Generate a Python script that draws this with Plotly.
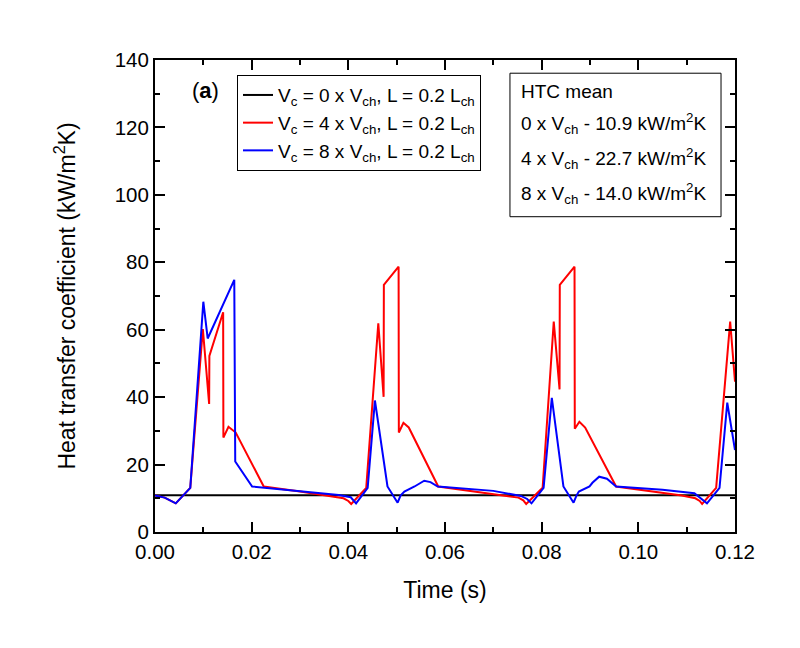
import plotly.graph_objects as go

# ---------------- data ----------------
t_black = [0.0, 0.12]
htc_black = [10.9, 10.9]

t_red = [0.0, 0.002, 0.0043, 0.0073, 0.0099, 0.0112, 0.01125, 0.0141, 0.01415, 0.0152, 0.0167,
         0.0225, 0.030, 0.036, 0.0390, 0.0400, 0.0406, 0.0437, 0.0462, 0.0473, 0.04735, 0.0504,
         0.05045, 0.0514, 0.0525, 0.0586, 0.066, 0.072, 0.0752, 0.0762, 0.0768, 0.0802, 0.0825,
         0.0837, 0.08375, 0.0868, 0.08685, 0.0878, 0.0890, 0.0954, 0.103, 0.109, 0.1118, 0.1127,
         0.1132, 0.1161, 0.1190, 0.1200]
htc_red = [10.8, 10.2, 8.5, 13.1, 60.2, 38.0, 52.2, 65.2, 28.0, 31.2, 29.5,
           13.5, 12.0, 10.8, 10.0, 9.2, 8.3, 13.1, 61.9, 40.1, 73.3, 78.7,
           29.5, 32.4, 31.0, 13.5, 12.0, 10.8, 10.2, 9.4, 8.3, 13.1, 62.4,
           42.3, 73.3, 78.7, 30.6, 32.7, 31.0, 13.5, 12.0, 10.8, 10.0, 9.2,
           8.3, 13.1, 62.4, 44.6]

t_blue = [0.0, 0.002, 0.0043, 0.0073, 0.0100, 0.0109, 0.0164, 0.0166, 0.0201, 0.030, 0.038,
          0.0405, 0.0416, 0.0440, 0.0455, 0.0481, 0.0490, 0.0502, 0.0508, 0.0516, 0.0537,
          0.0545, 0.0557, 0.0570, 0.0585, 0.070, 0.0757, 0.0770, 0.0779, 0.0804, 0.0821,
          0.0845, 0.0855, 0.0866, 0.0872, 0.0877, 0.0899, 0.0905, 0.0919, 0.0935, 0.0954,
          0.105, 0.1116, 0.1135, 0.1142, 0.1168, 0.1184, 0.1200]
htc_blue = [10.8, 10.2, 8.5, 13.1, 68.3, 57.4, 74.8, 20.9, 13.5, 12.0, 11.0,
            10.3, 8.5, 13.1, 39.0, 13.5, 11.5, 8.7, 10.8, 12.0, 13.5,
            14.2, 15.2, 14.8, 13.5, 12.2, 10.7, 9.8, 8.5, 13.1, 39.8,
            13.5, 11.2, 8.7, 10.8, 12.0, 13.5, 14.6, 16.4, 15.8, 13.5,
            12.5, 11.5, 9.5, 8.5, 13.1, 38.4, 24.3]

legend_names = [
    "V<sub>c</sub> = 0 x V<sub>ch</sub>, L = 0.2 L<sub>ch</sub>",
    "V<sub>c</sub> = 4 x V<sub>ch</sub>, L = 0.2 L<sub>ch</sub>",
    "V<sub>c</sub> = 8 x V<sub>ch</sub>, L = 0.2 L<sub>ch</sub>",
]
htc_lines = [
    "HTC mean",
    "0 x V<sub>ch</sub> - 10.9 kW/m<sup>2</sup>K",
    "4 x V<sub>ch</sub> - 22.7 kW/m<sup>2</sup>K",
    "8 x V<sub>ch</sub> - 14.0 kW/m<sup>2</sup>K",
]
x_ticks = [0.00, 0.02, 0.04, 0.06, 0.08, 0.10, 0.12]
y_ticks = [0, 20, 40, 60, 80, 100, 120, 140]

FONT = "Liberation Sans, Arial, sans-serif"

fig = go.Figure()
for name, xs, ys, col in [(legend_names[0], t_black, htc_black, "black"),
                          (legend_names[1], t_red, htc_red, "#ff0000"),
                          (legend_names[2], t_blue, htc_blue, "#0000ff")]:
    fig.add_trace(go.Scatter(x=xs, y=ys, mode="lines", name=name,
                             line=dict(color=col, width=2)))

axis_common = dict(showline=True, linecolor="black", linewidth=2, mirror="ticks",
                   ticks="inside", ticklen=10, tickwidth=1.5, tickcolor="black",
                   showgrid=False, zeroline=False,
                   tickfont=dict(family=FONT, size=20.5, color="black"))

fig.update_xaxes(range=[0, 0.12], tickvals=x_ticks, tickformat=".2f",
                 minor=dict(ticks="inside", ticklen=5, tickwidth=1.5, tickcolor="black", dtick=0.01),
                 title=dict(text="Time (s)", font=dict(family=FONT, size=23, color="black"), standoff=20),
                 **axis_common)
fig.update_yaxes(range=[0, 140], tickvals=y_ticks,
                 minor=dict(ticks="inside", ticklen=5, tickwidth=1.5, tickcolor="black", dtick=10),
                 title=dict(text="Heat transfer coefficient (kW/m<sup>2</sup>K)",
                            font=dict(family=FONT, size=23, color="black"), standoff=33),
                 **axis_common)

fig.update_layout(
    width=800, height=648,
    margin=dict(l=155, r=65, t=60, b=116),
    plot_bgcolor="white", paper_bgcolor="white",
    font=dict(family=FONT, color="black"),
    legend=dict(x=0.1414, y=0.968, xanchor="left", yanchor="top",
                bgcolor="white", bordercolor="black", borderwidth=1,
                font=dict(family=FONT, size=19, color="black"),
                itemwidth=30, tracegroupgap=0),
)

fig.add_annotation(x=0.0879, y=0.9364, xref="paper", yref="paper", text="(<b>a</b>)",
                   xanchor="center", yanchor="middle",
                   showarrow=False, font=dict(family=FONT, size=22, color="black"))

fig.add_shape(type="rect", xref="paper", yref="paper", x0=0.612, x1=0.9759, y0=0.668, y1=0.972,
              line=dict(color="black", width=1), fillcolor="white", layer="above")
for txt, yy in zip(htc_lines, [0.9343, 0.8659, 0.7917, 0.7176]):
    fig.add_annotation(x=0.6276, y=yy, xref="paper", yref="paper", text=txt, showarrow=False,
                       xanchor="left", yanchor="middle",
                       font=dict(family=FONT, size=19, color="black"))

fig.write_html("out.html")
